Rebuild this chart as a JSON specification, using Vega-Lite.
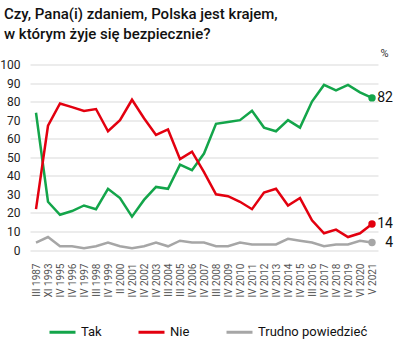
{
  "$schema": "https://vega.github.io/schema/vega-lite/v6.json",
  "autosize": "none",
  "width": 348,
  "height": 185.5,
  "padding": {"left": 30, "top": 64.5, "right": 19, "bottom": 109},
  "background": "white",
  "config": {
    "font": "Roboto",
    "view": {"stroke": null},
    "axis": {"domain": false, "ticks": false, "gridColor": "#d9d9d9", "gridWidth": 1}
  },
  "title": {
    "text": ["Czy, Pana(i) zdaniem, Polska jest krajem,", "w którym żyje się bezpiecznie?"],
    "anchor": "start",
    "frame": "group",
    "font": "Roboto",
    "fontSize": 15,
    "fontWeight": 500,
    "color": "#111111",
    "lineHeight": 20,
    "dx": -26,
    "offset": 6
  },
  "data": {
    "values": [
      {"okres": "III 1987", "seria": "Tak", "wartosc": 74},
      {"okres": "XI 1993", "seria": "Tak", "wartosc": 26},
      {"okres": "IV 1995", "seria": "Tak", "wartosc": 19},
      {"okres": "IV 1996", "seria": "Tak", "wartosc": 21},
      {"okres": "IV 1997", "seria": "Tak", "wartosc": 24},
      {"okres": "III 1998", "seria": "Tak", "wartosc": 22},
      {"okres": "IV 1999", "seria": "Tak", "wartosc": 33},
      {"okres": "II 2000", "seria": "Tak", "wartosc": 28},
      {"okres": "IV 2001", "seria": "Tak", "wartosc": 18},
      {"okres": "IV 2002", "seria": "Tak", "wartosc": 27},
      {"okres": "IV 2003", "seria": "Tak", "wartosc": 34},
      {"okres": "III 2004", "seria": "Tak", "wartosc": 33},
      {"okres": "III 2005", "seria": "Tak", "wartosc": 46},
      {"okres": "IV 2006", "seria": "Tak", "wartosc": 43},
      {"okres": "IV 2007", "seria": "Tak", "wartosc": 52},
      {"okres": "III 2008", "seria": "Tak", "wartosc": 68},
      {"okres": "IV 2009", "seria": "Tak", "wartosc": 69},
      {"okres": "IV 2010", "seria": "Tak", "wartosc": 70},
      {"okres": "IV 2011", "seria": "Tak", "wartosc": 75},
      {"okres": "IV 2012", "seria": "Tak", "wartosc": 66},
      {"okres": "IV 2013", "seria": "Tak", "wartosc": 64},
      {"okres": "IV 2014", "seria": "Tak", "wartosc": 70},
      {"okres": "IV 2015", "seria": "Tak", "wartosc": 66},
      {"okres": "III 2016", "seria": "Tak", "wartosc": 80},
      {"okres": "IV 2017", "seria": "Tak", "wartosc": 89},
      {"okres": "IV 2018", "seria": "Tak", "wartosc": 86},
      {"okres": "IV 2019", "seria": "Tak", "wartosc": 89},
      {"okres": "VI 2020", "seria": "Tak", "wartosc": 85},
      {"okres": "V 2021", "seria": "Tak", "wartosc": 82},
      {"okres": "III 1987", "seria": "Nie", "wartosc": 22},
      {"okres": "XI 1993", "seria": "Nie", "wartosc": 67},
      {"okres": "IV 1995", "seria": "Nie", "wartosc": 79},
      {"okres": "IV 1996", "seria": "Nie", "wartosc": 77},
      {"okres": "IV 1997", "seria": "Nie", "wartosc": 75},
      {"okres": "III 1998", "seria": "Nie", "wartosc": 76},
      {"okres": "IV 1999", "seria": "Nie", "wartosc": 64},
      {"okres": "II 2000", "seria": "Nie", "wartosc": 70},
      {"okres": "IV 2001", "seria": "Nie", "wartosc": 81},
      {"okres": "IV 2002", "seria": "Nie", "wartosc": 71},
      {"okres": "IV 2003", "seria": "Nie", "wartosc": 62},
      {"okres": "III 2004", "seria": "Nie", "wartosc": 65},
      {"okres": "III 2005", "seria": "Nie", "wartosc": 49},
      {"okres": "IV 2006", "seria": "Nie", "wartosc": 53},
      {"okres": "IV 2007", "seria": "Nie", "wartosc": 42},
      {"okres": "III 2008", "seria": "Nie", "wartosc": 30},
      {"okres": "IV 2009", "seria": "Nie", "wartosc": 29},
      {"okres": "IV 2010", "seria": "Nie", "wartosc": 26},
      {"okres": "IV 2011", "seria": "Nie", "wartosc": 22},
      {"okres": "IV 2012", "seria": "Nie", "wartosc": 31},
      {"okres": "IV 2013", "seria": "Nie", "wartosc": 33},
      {"okres": "IV 2014", "seria": "Nie", "wartosc": 24},
      {"okres": "IV 2015", "seria": "Nie", "wartosc": 28},
      {"okres": "III 2016", "seria": "Nie", "wartosc": 16},
      {"okres": "IV 2017", "seria": "Nie", "wartosc": 9},
      {"okres": "IV 2018", "seria": "Nie", "wartosc": 11},
      {"okres": "IV 2019", "seria": "Nie", "wartosc": 7},
      {"okres": "VI 2020", "seria": "Nie", "wartosc": 9},
      {"okres": "V 2021", "seria": "Nie", "wartosc": 14},
      {"okres": "III 1987", "seria": "Trudno powiedzieć", "wartosc": 4},
      {"okres": "XI 1993", "seria": "Trudno powiedzieć", "wartosc": 7},
      {"okres": "IV 1995", "seria": "Trudno powiedzieć", "wartosc": 2},
      {"okres": "IV 1996", "seria": "Trudno powiedzieć", "wartosc": 2},
      {"okres": "IV 1997", "seria": "Trudno powiedzieć", "wartosc": 1},
      {"okres": "III 1998", "seria": "Trudno powiedzieć", "wartosc": 2},
      {"okres": "IV 1999", "seria": "Trudno powiedzieć", "wartosc": 4},
      {"okres": "II 2000", "seria": "Trudno powiedzieć", "wartosc": 2},
      {"okres": "IV 2001", "seria": "Trudno powiedzieć", "wartosc": 1},
      {"okres": "IV 2002", "seria": "Trudno powiedzieć", "wartosc": 2},
      {"okres": "IV 2003", "seria": "Trudno powiedzieć", "wartosc": 4},
      {"okres": "III 2004", "seria": "Trudno powiedzieć", "wartosc": 2},
      {"okres": "III 2005", "seria": "Trudno powiedzieć", "wartosc": 5},
      {"okres": "IV 2006", "seria": "Trudno powiedzieć", "wartosc": 4},
      {"okres": "IV 2007", "seria": "Trudno powiedzieć", "wartosc": 4},
      {"okres": "III 2008", "seria": "Trudno powiedzieć", "wartosc": 2},
      {"okres": "IV 2009", "seria": "Trudno powiedzieć", "wartosc": 2},
      {"okres": "IV 2010", "seria": "Trudno powiedzieć", "wartosc": 4},
      {"okres": "IV 2011", "seria": "Trudno powiedzieć", "wartosc": 3},
      {"okres": "IV 2012", "seria": "Trudno powiedzieć", "wartosc": 3},
      {"okres": "IV 2013", "seria": "Trudno powiedzieć", "wartosc": 3},
      {"okres": "IV 2014", "seria": "Trudno powiedzieć", "wartosc": 6},
      {"okres": "IV 2015", "seria": "Trudno powiedzieć", "wartosc": 5},
      {"okres": "III 2016", "seria": "Trudno powiedzieć", "wartosc": 4},
      {"okres": "IV 2017", "seria": "Trudno powiedzieć", "wartosc": 2},
      {"okres": "IV 2018", "seria": "Trudno powiedzieć", "wartosc": 3},
      {"okres": "IV 2019", "seria": "Trudno powiedzieć", "wartosc": 3},
      {"okres": "VI 2020", "seria": "Trudno powiedzieć", "wartosc": 5},
      {"okres": "V 2021", "seria": "Trudno powiedzieć", "wartosc": 4}
    ]
  },
  "encoding": {
    "x": {
      "field": "okres",
      "type": "ordinal",
      "sort": null,
      "scale": {"type": "point", "padding": 0.5},
      "axis": {
        "title": null,
        "labelAngle": -90,
        "labelFontSize": 10,
        "labelColor": "#555555",
        "labelPadding": 13,
        "grid": false
      }
    },
    "y": {
      "field": "wartosc",
      "type": "quantitative",
      "scale": {"domain": [0, 100]},
      "axis": {
        "values": [0, 10, 20, 30, 40, 50, 60, 70, 80, 90, 100],
        "labelFontSize": 12,
        "labelColor": "#222222",
        "labelPadding": 10,
        "title": "%",
        "titleAngle": 0,
        "titleX": 354,
        "titleY": -6,
        "titleFontSize": 11,
        "titleFontWeight": "normal",
        "titleColor": "#333333",
        "titleAlign": "center"
      }
    },
    "color": {
      "field": "seria",
      "type": "nominal",
      "scale": {
        "domain": ["Tak", "Nie", "Trudno powiedzieć"],
        "range": ["#13a54a", "#e3000f", "#a6a6a6"]
      },
      "legend": {
        "title": null,
        "orient": "none",
        "direction": "horizontal",
        "legendX": 18,
        "legendY": 253,
        "symbolType": "stroke",
        "symbolSize": 676,
        "symbolStrokeWidth": 3,
        "labelFontSize": 13,
        "labelColor": "#111111",
        "labelOffset": 4,
        "columnPadding": 30
      }
    }
  },
  "layer": [
    {"mark": {"type": "line", "strokeWidth": 2.5}},
    {
      "transform": [{"filter": "datum.okres === 'V 2021'"}],
      "mark": {"type": "point", "filled": true, "size": 55, "opacity": 1}
    },
    {
      "transform": [{"filter": "datum.okres === 'V 2021'"}],
      "mark": {"type": "text", "align": "right", "dx": 21, "fontSize": 14, "color": "#111111"},
      "encoding": {
        "text": {"field": "wartosc", "type": "quantitative"},
        "color": {"value": "#111111"}
      }
    }
  ]
}
